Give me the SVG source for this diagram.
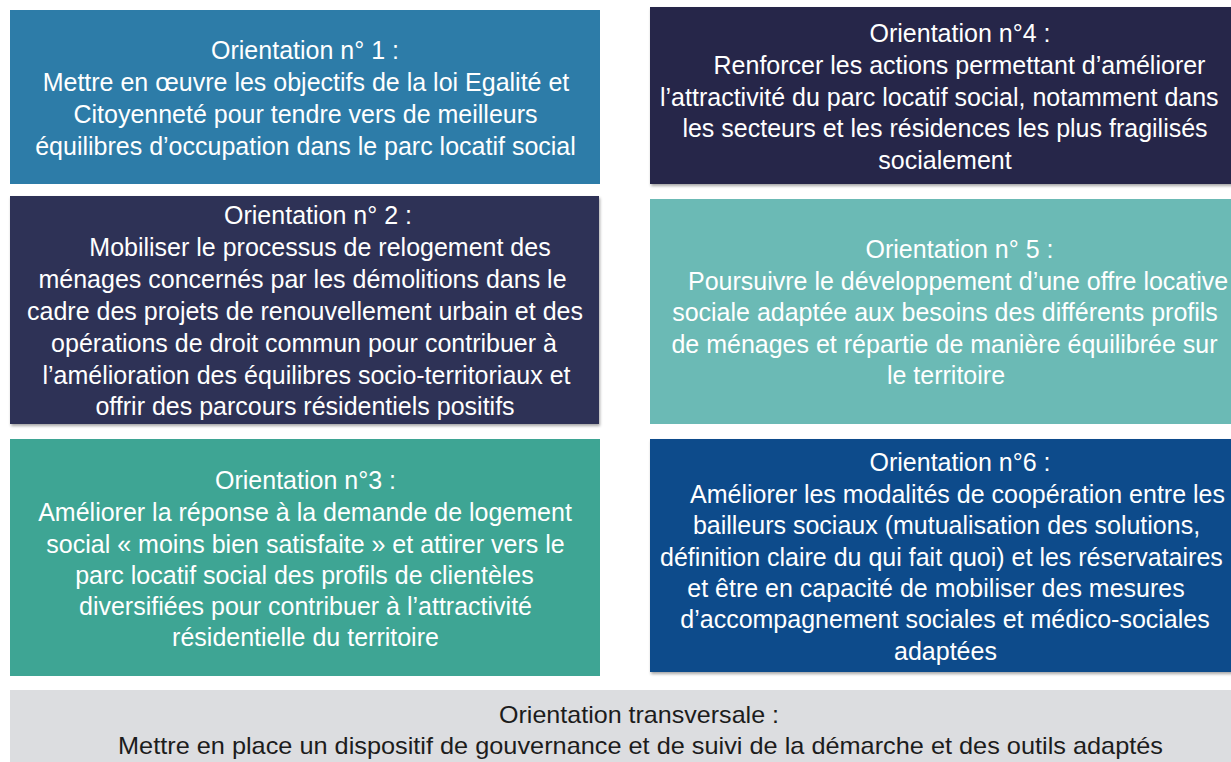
<svg xmlns="http://www.w3.org/2000/svg" width="1231" height="762" viewBox="0 0 1231 762">
<defs>
<filter id="sh" x="-5%" y="-5%" width="110%" height="115%">
<feDropShadow dx="1" dy="2" stdDeviation="1.5" flood-color="#000" flood-opacity="0.35"/>
</filter>
</defs>
<style>
text{font-family:"Liberation Sans",Arial,sans-serif;font-size:25px;fill:#ffffff;text-anchor:middle}
.s{text-anchor:start}
.g text{fill:#1c1c1c;font-size:24px}
</style>
<rect width="1231" height="762" fill="#ffffff"/>
<g id="node1">
<rect x="10" y="10" width="590" height="174" fill="#2d7ca8"/>
<text x="305" y="59">Orientation n° 1 :</text>
<text x="306" y="91">Mettre en œuvre les objectifs de la loi Egalité et</text>
<text x="305.5" y="123">Citoyenneté pour tendre vers de meilleurs</text>
<text x="305.5" y="155">équilibres d’occupation dans le parc locatif social</text>
</g>
<g id="node2">
<rect x="10" y="196" width="589" height="228" fill="#2e3156" filter="url(#sh)"/>
<text x="318" y="224">Orientation n° 2 :</text>
<text x="320" y="256">Mobiliser le processus de relogement des</text>
<text x="302.5" y="288">ménages concernés par les démolitions dans le</text>
<text x="305" y="320">cadre des projets de renouvellement urbain et des</text>
<text x="304" y="352">opérations de droit commun pour contribuer à</text>
<text x="306.5" y="383.5">l’amélioration des équilibres socio-territoriaux et</text>
<text x="305" y="415">offrir des parcours résidentiels positifs</text>
</g>
<g id="node3">
<rect x="10" y="439" width="590" height="237" fill="#3ea594"/>
<text x="305.5" y="489">Orientation n°3 :</text>
<text x="305" y="521">Améliorer la réponse à la demande de logement</text>
<text x="305.5" y="553">social « moins bien satisfaite » et attirer vers le</text>
<text x="304.5" y="584">parc locatif social des profils de clientèles</text>
<text x="305.5" y="615">diversifiées pour contribuer à l’attractivité</text>
<text x="305.5" y="646">résidentielle du territoire</text>
</g>
<g id="node4">
<rect x="650" y="7" width="600" height="177" fill="#25274a" filter="url(#sh)"/>
<text x="960" y="42">Orientation n°4 :</text>
<text x="959.5" y="74">Renforcer les actions permettant d’améliorer</text>
<text class="s" x="660" y="106">l’attractivité du parc locatif social, notamment dans</text>
<text x="945" y="137">les secteurs et les résidences les plus fragilisés</text>
<text x="945" y="169">socialement</text>
</g>
<g id="node5">
<rect x="650" y="199" width="600" height="225" fill="#6bbab5"/>
<text x="959.5" y="258">Orientation n° 5 :</text>
<text class="s" x="688" y="290">Poursuivre le développement d’une offre locative</text>
<text x="945" y="321">sociale adaptée aux besoins des différents profils</text>
<text x="944.5" y="353">de ménages et répartie de manière équilibrée sur</text>
<text x="946" y="384">le territoire</text>
</g>
<g id="node6">
<rect x="650" y="439" width="600" height="233" fill="#0e4b8b" filter="url(#sh)"/>
<text x="960" y="471">Orientation n°6 :</text>
<text class="s" x="690" y="503">Améliorer les modalités de coopération entre les</text>
<text x="946.5" y="534">bailleurs sociaux (mutualisation des solutions,</text>
<text class="s" x="660" y="566">définition claire du qui fait quoi) et les réservataires</text>
<text x="936" y="597">et être en capacité de mobiliser des mesures</text>
<text x="945" y="628">d’accompagnement sociales et médico-sociales</text>
<text x="945.5" y="660">adaptées</text>
</g>
<g id="node7" class="g">
<rect x="10" y="690" width="1240" height="80" fill="#dcdde0"/>
<text x="639" y="723" textLength="280" lengthAdjust="spacingAndGlyphs">Orientation transversale :</text>
<text x="640.5" y="754" textLength="1045" lengthAdjust="spacingAndGlyphs">Mettre en place un dispositif de gouvernance et de suivi de la démarche et des outils adaptés</text>
</g>
<g id="connectors"></g>
</svg>
